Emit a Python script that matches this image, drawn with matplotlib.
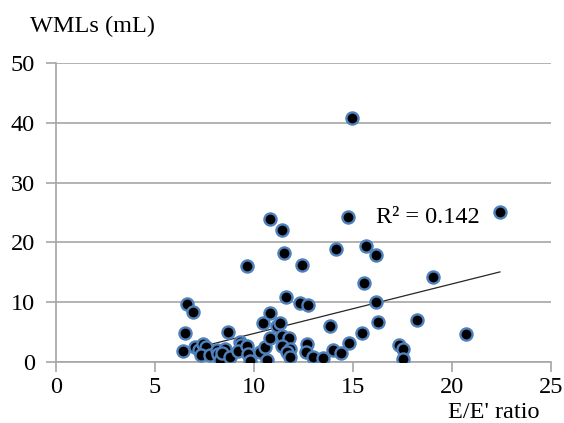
import matplotlib.pyplot as plt

# E/E' ratio vs WML volume
ee_ratio = [6.44, 6.53, 6.61, 6.95, 7.05, 7.25, 7.45, 7.58, 7.32, 7.78,
            8.15, 8.21, 8.30, 8.53, 8.40, 8.72, 8.82, 9.30, 9.36, 9.21,
            9.65, 9.72, 9.81, 9.65, 10.30, 10.45, 10.57, 10.65, 10.82, 10.82,
            10.82, 11.20, 11.33, 11.45, 11.80, 11.41, 11.83, 11.66, 11.82, 11.63,
            11.44, 11.53, 12.42, 12.34, 12.76, 12.68, 12.66, 13.01, 13.48, 13.85,
            13.99, 14.39, 14.80, 14.16, 14.78, 14.98, 15.45, 15.55, 15.66, 16.18,
            16.16, 16.29, 17.35, 17.56, 17.52, 18.23, 19.07, 20.72, 22.44]
wml = [1.8, 4.8, 9.6, 8.4, 2.4, 1.9, 2.9, 2.4, 1.15, 1.2,
       2.0, 1.3, 0.2, 2.2, 1.4, 5.0, 0.7, 3.35, 2.8, 1.8,
       2.7, 1.3, 0.05, 16.1, 1.7, 6.4, 2.5, 0.35, 8.2, 3.9,
       23.9, 5.9, 6.5, 4.3, 4.05, 2.6, 2.2, 1.7, 0.7, 10.8,
       22.1, 18.3, 16.2, 9.8, 9.5, 3.0, 1.7, 0.7, 0.55, 6.0,
       1.9, 1.4, 3.2, 18.9, 24.2, 40.9, 4.85, 13.2, 19.4, 17.9,
       10.05, 6.65, 2.8, 2.1, 0.45, 7.0, 14.2, 4.65, 25.1]

# linear trendline endpoints (Excel style)
trend_x = [6.44, 22.44]
trend_y = [1.75, 15.05]

xticks = [0, 5, 10, 15, 20, 25]
yticks = [0, 10, 20, 30, 40, 50]

plt.rcParams["font.family"] = ["Liberation Serif", "DejaVu Serif"]

fig = plt.figure(figsize=(5.64, 4.23), dpi=100)
ax = fig.add_axes([0.0988, 0.145, 0.8775, 0.705])

ax.grid(axis="y", color="#a6a6a6", linewidth=1.2)
ax.set_axisbelow(True)

ax.plot(trend_x, trend_y, color="#262626", linewidth=0.9, zorder=2)
ax.scatter(ee_ratio, wml, s=76, c="black", edgecolors="#4f81bd",
           linewidths=1.7, zorder=3)

ax.set_xlim(0, 25)
ax.set_ylim(0, 50)
ax.set_xticks(xticks)
ax.set_yticks(yticks)

for side in ["top", "right"]:
    ax.spines[side].set_visible(False)
for side in ["left", "bottom"]:
    ax.spines[side].set_color("#a6a6a6")
    ax.spines[side].set_linewidth(1.2)

ax.tick_params(axis="both", direction="out", length=7, width=1.2,
               color="#a6a6a6", labelsize=17.5)
ax.tick_params(axis="x", pad=4)
ax.tick_params(axis="y", pad=8)

ax.text(16.18, 24.1, "R\u00b2 = 0.142", fontsize=17.5, ha="left", va="center")
fig.text(30 / 564, 1 - 26 / 423, "WMLs (mL)", fontsize=17.5,
         ha="left", va="center")
fig.text(494 / 564, 1 - 412 / 423, "E/E' ratio", fontsize=17.5,
         ha="center", va="center")

fig.savefig("out.png", dpi=100)
